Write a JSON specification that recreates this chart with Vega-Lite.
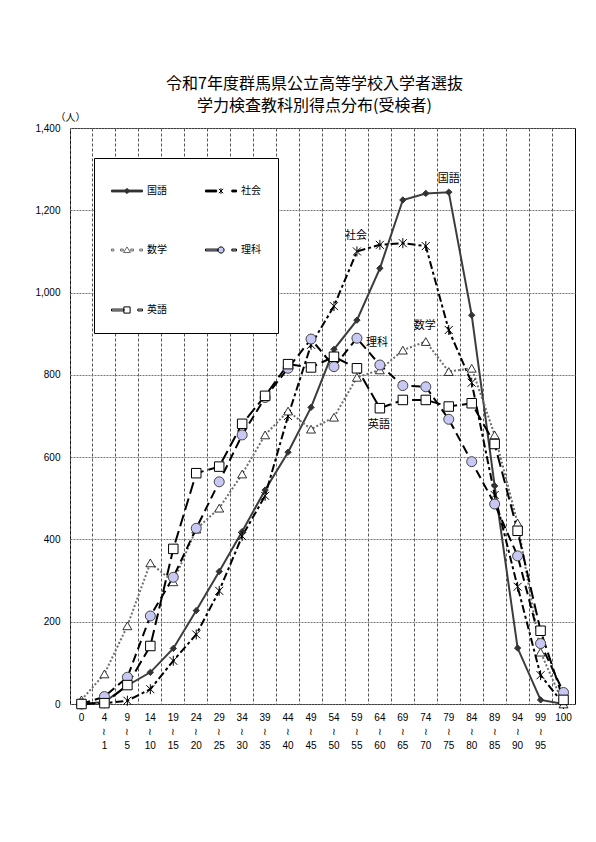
{
  "$schema": "https://vega.github.io/schema/vega-lite/v6.json",
  "autosize": "none",
  "padding": {"left": 70, "top": 128, "right": 21, "bottom": 138},
  "width": 505,
  "height": 576,
  "title": {
    "text": ["令和7年度群馬県公立高等学校入学者選抜", "学力検査教科別得点分布(受検者)"],
    "font": "Noto Sans CJK JP",
    "fontSize": 16,
    "fontWeight": "normal",
    "lineHeight": 22,
    "color": "black",
    "anchor": "middle",
    "frame": "group",
    "dx": -8,
    "offset": -2
  },
  "config": {
    "view": {"stroke": "black", "strokeWidth": 1},
    "font": "Noto Sans CJK JP"
  },
  "data": {
    "values": [
      {"cat": "0", "国語": 0, "社会": 0, "数学": 10, "理科": 0, "英語": 0},
      {"cat": "4～1", "国語": 5, "社会": 2, "数学": 73, "理科": 18, "英語": 2},
      {"cat": "9～5", "国語": 45, "社会": 8, "数学": 190, "理科": 65, "英語": 46},
      {"cat": "14～10", "国語": 77, "社会": 36, "数学": 343, "理科": 214, "英語": 141},
      {"cat": "19～15", "国語": 135, "社会": 105, "数学": 297, "理科": 308, "英語": 377},
      {"cat": "24～20", "国語": 227, "社会": 169, "数学": 425, "理科": 427, "英語": 561},
      {"cat": "29～25", "国語": 322, "社会": 275, "数学": 476, "理科": 540, "英語": 577},
      {"cat": "34～30", "国語": 419, "社会": 408, "数学": 559, "理科": 654, "英語": 681},
      {"cat": "39～35", "国語": 520, "社会": 506, "数学": 654, "理科": 745, "英語": 749},
      {"cat": "44～40", "国語": 612, "社会": 700, "数学": 712, "理科": 816, "英語": 826},
      {"cat": "49～45", "国語": 721, "社会": 873, "数学": 668, "理科": 887, "英語": 818},
      {"cat": "54～50", "国語": 862, "社会": 967, "数学": 697, "理科": 820, "英語": 844},
      {"cat": "59～55", "国語": 933, "社会": 1100, "数学": 794, "理科": 889, "英語": 816},
      {"cat": "64～60", "国語": 1059, "社会": 1116, "数学": 812, "理科": 824, "英語": 719},
      {"cat": "69～65", "国語": 1225, "社会": 1120, "数学": 860, "理科": 774, "英語": 739},
      {"cat": "74～70", "国語": 1241, "社会": 1113, "数学": 881, "理科": 771, "英語": 739},
      {"cat": "79～75", "国語": 1244, "社会": 909, "数学": 808, "理科": 692, "英語": 723},
      {"cat": "84～80", "国語": 945, "社会": 781, "数学": 816, "理科": 589, "英語": 731},
      {"cat": "89～85", "国語": 530, "社会": 508, "数学": 654, "理科": 486, "英語": 632},
      {"cat": "94～90", "国語": 136, "社会": 285, "数学": 440, "理科": 360, "英語": 421},
      {"cat": "99～95", "国語": 10, "社会": 70, "数学": 126, "理科": 147, "英語": 178},
      {"cat": "100", "国語": 0, "社会": 0, "数学": 0, "理科": 28, "英語": 10}
    ]
  },
  "transform": [
    {"fold": ["国語", "社会", "数学", "理科", "英語"], "as": ["subject", "n"]}
  ],
  "encoding": {
    "x": {
      "field": "cat",
      "type": "ordinal",
      "bandPosition": 0.5,
      "scale": {
        "type": "band",
        "paddingInner": 0,
        "paddingOuter": 0,
        "domain": ["0", "4～1", "9～5", "14～10", "19～15", "24～20", "29～25", "34～30", "39～35", "44～40", "49～45", "54～50", "59～55", "64～60", "69～65", "74～70", "79～75", "84～80", "89～85", "94～90", "99～95", "100"]
      },
      "axis": {
        "title": null,
        "grid": true,
        "bandPosition": 0,
        "gridColor": "#555555",
        "gridDash": [3, 2],
        "gridWidth": 1,
        "ticks": false,
        "domain": false,
        "labelAngle": 0,
        "labelFont": "Liberation Sans",
        "labelFontSize": 10,
        "labelColor": "black",
        "labelPadding": 8,
        "labelLineHeight": 14,
        "labelBaseline": "top",
        "labelExpr": "indexof(datum.label, '～') > 0 ? [split(datum.label, '～')[0], '≀', split(datum.label, '～')[1]] : datum.label"
      }
    },
    "y": {
      "field": "n",
      "type": "quantitative",
      "scale": {"domain": [0, 1400], "nice": false},
      "axis": {
        "values": [0, 200, 400, 600, 800, 1000, 1200, 1400],
        "format": ",d",
        "grid": true,
        "gridColor": "#777777",
        "gridDash": [2, 1],
        "ticks": false,
        "domain": false,
        "labelFont": "Liberation Sans",
        "labelFontSize": 10,
        "labelColor": "black",
        "labelPadding": 10,
        "title": "（人）",
        "titleAngle": 0,
        "titleX": 0,
        "titleY": -11,
        "titleAlign": "center",
        "titleBaseline": "middle",
        "titleFont": "Noto Sans CJK JP",
        "titleFontSize": 10,
        "titleFontWeight": "normal",
        "titleColor": "black"
      }
    }
  },
  "layer": [
    {
      "transform": [{"filter": "datum.subject === '国語'"}],
      "mark": {"type": "line", "stroke": "#3c3c3c", "strokeWidth": 2}
    },
    {
      "transform": [{"filter": "datum.subject === '社会'"}],
      "mark": {"type": "line", "stroke": "black", "strokeWidth": 2, "strokeDash": [8, 3, 3, 3]}
    },
    {
      "transform": [{"filter": "datum.subject === '数学'"}],
      "mark": {"type": "line", "stroke": "#6e6e6e", "strokeWidth": 2, "strokeDash": [2, 2]}
    },
    {
      "transform": [{"filter": "datum.subject === '理科'"}],
      "mark": {"type": "line", "stroke": "black", "strokeWidth": 2, "strokeDash": [9, 5]}
    },
    {
      "transform": [{"filter": "datum.subject === '英語'"}],
      "mark": {"type": "line", "stroke": "black", "strokeWidth": 2, "strokeDash": [12, 5]}
    },
    {
      "transform": [{"filter": "datum.subject === '国語'"}],
      "mark": {"type": "point", "shape": "diamond", "size": 40, "filled": true, "fill": "#333333", "stroke": "#333333", "strokeWidth": 1, "opacity": 1}
    },
    {
      "transform": [{"filter": "datum.subject === '社会'"}],
      "mark": {"type": "point", "shape": "M-0.8,-0.8L0.8,0.8M-0.8,0.8L0.8,-0.8M0,-1V1", "size": 100, "filled": false, "stroke": "black", "strokeWidth": 1, "opacity": 1}
    },
    {
      "transform": [{"filter": "datum.subject === '数学'"}],
      "mark": {"type": "point", "shape": "triangle-up", "size": 80, "filled": true, "fill": "white", "stroke": "black", "strokeWidth": 0.8, "opacity": 1}
    },
    {
      "transform": [{"filter": "datum.subject === '理科'"}],
      "mark": {"type": "point", "shape": "circle", "size": 100, "filled": true, "fill": "#c8c8f4", "stroke": "#444444", "strokeWidth": 1, "opacity": 1}
    },
    {
      "transform": [{"filter": "datum.subject === '英語'"}],
      "mark": {"type": "point", "shape": "square", "size": 90, "filled": true, "fill": "white", "stroke": "black", "strokeWidth": 1, "opacity": 1}
    },
    {
      "mark": {"type": "point", "filled": true, "opacity": 0, "size": 961},
      "encoding": {
        "shape": {
          "field": "subject",
          "type": "nominal",
          "scale": {
            "domain": ["国語", "社会", "数学", "理科", "英語"],
            "range": [
              "M-1,-0.06H1V0.06H-1ZM0,-0.17L0.17,0L0,0.17L-0.17,0Z",
              "M-1,-0.06H-0.28V0.06H-1ZM0.7,-0.06H1V0.06H0.7ZM-0.14,-0.14L0.14,0.14M-0.14,0.14L0.14,-0.14M0,-0.18V0.18",
              "M-1,-0.06H-0.85V0.06H-1ZM-0.42,-0.06H-0.24V0.06H-0.42ZM0.24,-0.06H0.42V0.06H0.24ZM0.82,-0.06H1V0.06H0.82ZM0,-0.2L0.22,0.16H-0.22Z",
              "M-1,-0.06H-0.2V0.06H-1ZM0.7,-0.06H1V0.06H0.7ZM0.2,0A0.2,0.2 0 1,1 -0.2,0A0.2,0.2 0 1,1 0.2,0Z",
              "M-1,-0.06H-0.2V0.06H-1ZM0.7,-0.06H1V0.06H0.7ZM-0.2,-0.2H0.2V0.2H-0.2Z"
            ]
          },
          "legend": {
            "title": null, "orient": "none", "legendX": 24, "legendY": 30, "columns": 2, "direction": "horizontal",
            "fillColor": "white", "strokeColor": "black", "padding": 17,
            "symbolSize": 961, "symbolStrokeWidth": 1, "symbolOpacity": 1,
            "labelOffset": 4, "rowPadding": 38, "columnPadding": 36,
            "labelFont": "Noto Sans CJK JP", "labelFontSize": 10, "labelColor": "black"
          }
        },
        "fill": {
          "field": "subject",
          "type": "nominal",
          "scale": {"domain": ["国語", "社会", "数学", "理科", "英語"], "range": ["#333333", "#000000", "#ffffff", "#c8c8f4", "#ffffff"]},
          "legend": {
            "title": null, "orient": "none", "legendX": 24, "legendY": 30, "columns": 2, "direction": "horizontal",
            "fillColor": "white", "strokeColor": "black", "padding": 17,
            "symbolSize": 961, "symbolStrokeWidth": 1, "symbolOpacity": 1,
            "labelOffset": 4, "rowPadding": 38, "columnPadding": 36,
            "labelFont": "Noto Sans CJK JP", "labelFontSize": 10, "labelColor": "black"
          }
        },
        "stroke": {
          "field": "subject",
          "type": "nominal",
          "scale": {"domain": ["国語", "社会", "数学", "理科", "英語"], "range": ["#333333", "#000000", "#666666", "#000000", "#000000"]},
          "legend": {
            "title": null, "orient": "none", "legendX": 24, "legendY": 30, "columns": 2, "direction": "horizontal",
            "fillColor": "white", "strokeColor": "black", "padding": 17,
            "symbolSize": 961, "symbolStrokeWidth": 1, "symbolOpacity": 1,
            "labelOffset": 4, "rowPadding": 38, "columnPadding": 36,
            "labelFont": "Noto Sans CJK JP", "labelFontSize": 10, "labelColor": "black"
          }
        }
      }
    },
    {
      "transform": [{"filter": "datum.subject === '国語' && datum.cat === '79～75'"}],
      "mark": {"type": "text", "dx": 0, "dy": -13, "font": "Noto Sans CJK JP", "fontSize": 11, "fill": "black"},
      "encoding": {"text": {"field": "subject"}}
    },
    {
      "transform": [{"filter": "datum.subject === '社会' && datum.cat === '59～55'"}],
      "mark": {"type": "text", "dx": -1, "dy": -15, "font": "Noto Sans CJK JP", "fontSize": 11, "fill": "black"},
      "encoding": {"text": {"field": "subject"}}
    },
    {
      "transform": [{"filter": "datum.subject === '数学' && datum.cat === '74～70'"}],
      "mark": {"type": "text", "dx": -1, "dy": -16, "font": "Noto Sans CJK JP", "fontSize": 11, "fill": "black"},
      "encoding": {"text": {"field": "subject"}}
    },
    {
      "transform": [{"filter": "datum.subject === '理科' && datum.cat === '59～55'"}],
      "mark": {"type": "text", "dx": 20, "dy": 5, "font": "Noto Sans CJK JP", "fontSize": 11, "fill": "black"},
      "encoding": {"text": {"field": "subject"}}
    },
    {
      "transform": [{"filter": "datum.subject === '英語' && datum.cat === '64～60'"}],
      "mark": {"type": "text", "dx": -1, "dy": 17, "font": "Noto Sans CJK JP", "fontSize": 11, "fill": "black"},
      "encoding": {"text": {"field": "subject"}}
    }
  ]
}
